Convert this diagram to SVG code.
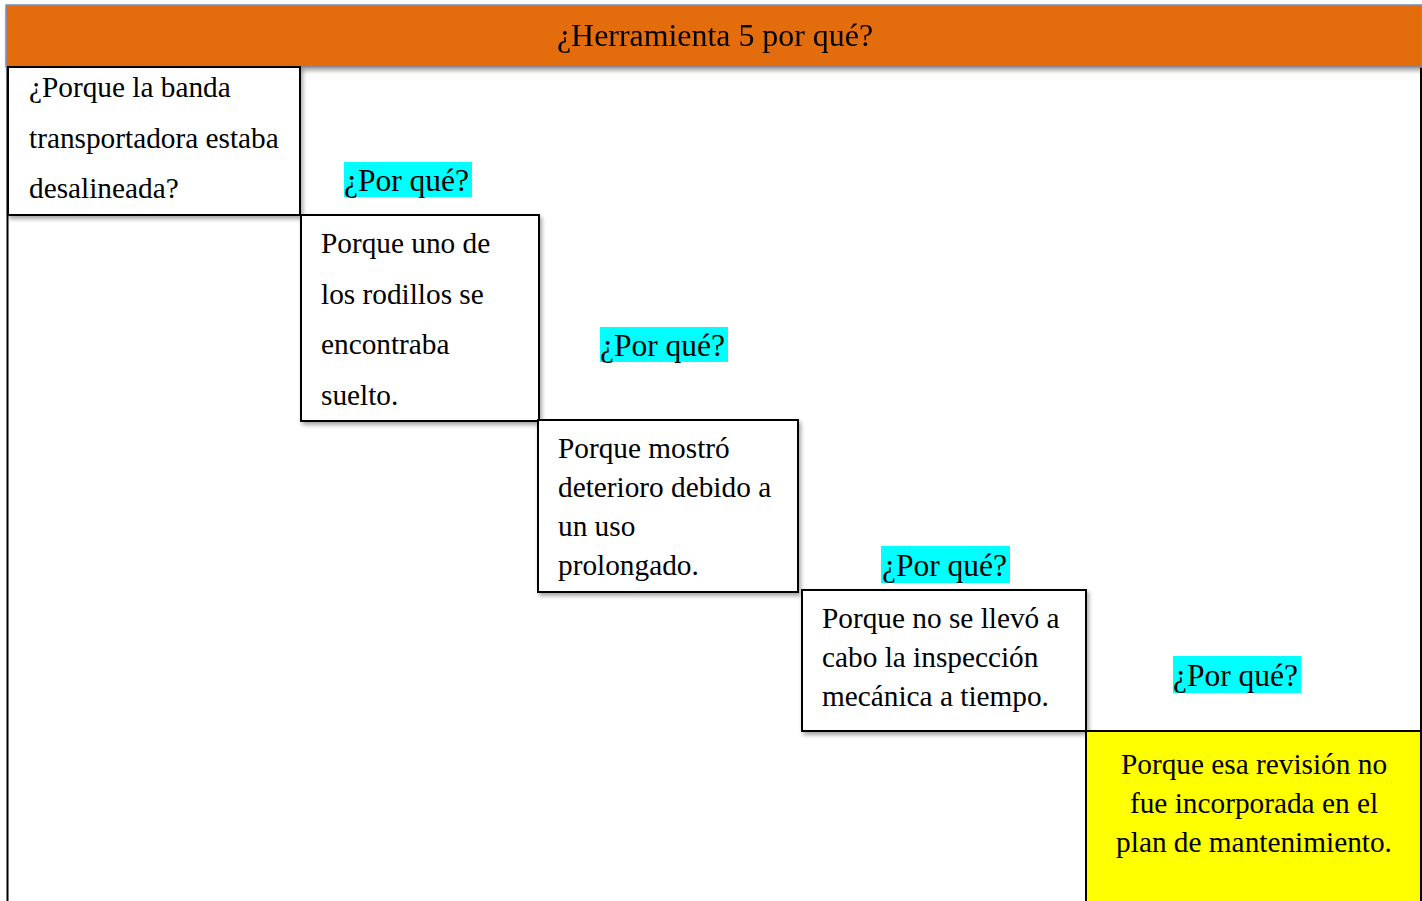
<svg xmlns="http://www.w3.org/2000/svg" width="1422" height="901" viewBox="0 0 1422 901">
<defs>
<filter id="sh" x="-10%" y="-10%" width="130%" height="130%">
<feDropShadow dx="2" dy="3" stdDeviation="2" flood-color="#000" flood-opacity="0.35"/>
</filter>
</defs>
<style>
.t{font-family:"Liberation Serif","Times New Roman",serif;font-size:29.3px;fill:#000}
.q{font-family:"Liberation Serif","Times New Roman",serif;font-size:31.5px;fill:#000}
.box{fill:#fff;stroke:#000;stroke-width:2}
.ask{fill:#00FFFF}
</style>
<rect x="0" y="0" width="1422" height="901" fill="#fff"/>
<g id="frame">
<line x1="7.5" y1="67" x2="7.5" y2="901" stroke="#000" stroke-width="2"/>
<line x1="1421" y1="67" x2="1421" y2="731" stroke="#000" stroke-width="2"/>
</g>
<g id="header" filter="url(#sh)">
<rect x="6" y="5" width="1416" height="62" fill="#E36C0A" stroke="#6F93C8" stroke-width="1.5"/>
<text class="t" x="715" y="46" text-anchor="middle" style="font-size:31.9px">¿Herramienta 5 por qué?</text>
</g>
<g id="n1">
<rect class="box" x="8" y="67" width="292" height="148" filter="url(#sh)"/>
<text class="t" x="29" y="97">¿Porque la banda</text>
<text class="t" x="29" y="148">transportadora estaba</text>
<text class="t" x="29" y="198">desalineada?</text>
</g>
<g id="q1">
<rect class="ask" x="344" y="162" width="128" height="35"/>
<text class="q" x="344" y="191">¿Por qué?</text>
</g>
<g id="n2">
<rect class="box" x="301" y="215" width="238" height="206" filter="url(#sh)"/>
<text class="t" x="321" y="253">Porque uno de</text>
<text class="t" x="321" y="304">los rodillos se</text>
<text class="t" x="321" y="354">encontraba</text>
<text class="t" x="321" y="405">suelto.</text>
</g>
<g id="q2">
<rect class="ask" x="600" y="327" width="128" height="35"/>
<text class="q" x="600" y="356">¿Por qué?</text>
</g>
<g id="n3">
<rect class="box" x="538" y="420" width="260" height="172" filter="url(#sh)"/>
<text class="t" x="558" y="458">Porque mostró</text>
<text class="t" x="558" y="497">deterioro debido a</text>
<text class="t" x="558" y="536">un uso</text>
<text class="t" x="558" y="575">prolongado.</text>
</g>
<g id="q3">
<rect class="ask" x="881" y="546" width="129" height="37"/>
<text class="q" x="882" y="576">¿Por qué?</text>
</g>
<g id="n4">
<rect class="box" x="802" y="590" width="284" height="141" filter="url(#sh)"/>
<text class="t" x="822" y="628">Porque no se llevó a</text>
<text class="t" x="822" y="667">cabo la inspección</text>
<text class="t" x="822" y="706">mecánica a tiempo.</text>
</g>
<g id="q4">
<rect class="ask" x="1173" y="656" width="128" height="37"/>
<text class="q" x="1173" y="686">¿Por qué?</text>
</g>
<g id="n5">
<rect x="1086" y="731" width="335" height="175" fill="#FFFF00" stroke="#000" stroke-width="2"/>
<text class="t" x="1254" y="774" text-anchor="middle">Porque esa revisión no</text>
<text class="t" x="1254" y="813" text-anchor="middle">fue incorporada en el</text>
<text class="t" x="1254" y="852" text-anchor="middle">plan de mantenimiento.</text>
</g>
<g id="connectors"></g>
</svg>
